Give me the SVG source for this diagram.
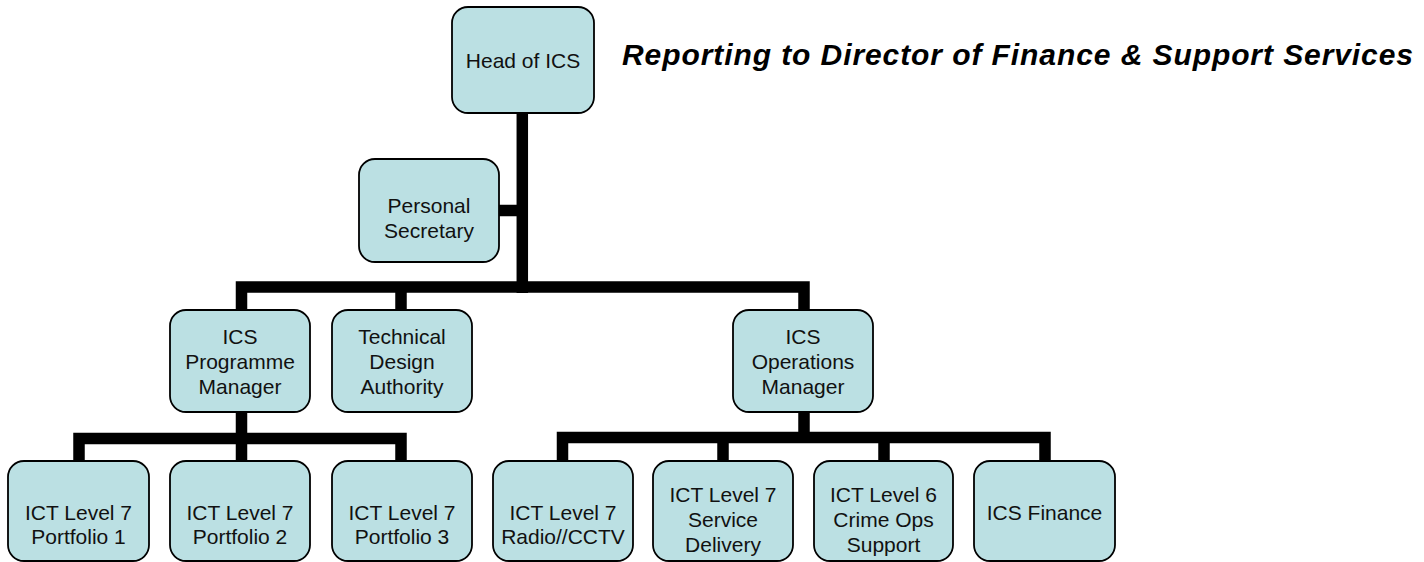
<svg xmlns="http://www.w3.org/2000/svg" width="1424" height="562" viewBox="0 0 1424 562">
<style>
.box{fill:#bbe0e3;stroke:#000;stroke-width:1.8}
.lbl{font-family:"Liberation Sans",Arial,sans-serif;font-size:21px;fill:#111;text-anchor:middle}
.con{fill:none;stroke:#000;stroke-width:11.5;stroke-linejoin:miter;stroke-linecap:butt}
.title{font-family:"Liberation Sans",Arial,sans-serif;font-size:30px;font-weight:bold;font-style:italic;fill:#000}
</style>
<rect width="1424" height="562" fill="#fff"/>
<g id="connectors">
<path class="con" d="M522.3 113 V293"/>
<path class="con" d="M499 210.5 H522"/>
<path class="con" d="M241.5 310 V287 H804 V310"/>
<path class="con" d="M401 287 V310"/>
<path class="con" d="M241.5 412 V438.5"/>
<path class="con" d="M79 461 V438.5 H401 V461"/>
<path class="con" d="M241.5 438 V461"/>
<path class="con" d="M804 412 V437.5"/>
<path class="con" d="M562.5 461 V437.5 H1045 V461"/>
<path class="con" d="M723 437 V461"/>
<path class="con" d="M884 437 V461"/>
</g>
<g id="head">
<rect class="box" x="452" y="7" width="142" height="106" rx="16"/>
<text class="lbl" x="523" y="68">Head of ICS</text>
</g>
<g id="title">
<text class="title" x="622" y="65" textLength="791" lengthAdjust="spacing">Reporting to Director of Finance &amp; Support Services</text>
</g>
<g id="secretary">
<rect class="box" x="359" y="159" width="140" height="103" rx="16"/>
<text class="lbl" x="429" y="213">Personal</text>
<text class="lbl" x="429" y="238">Secretary</text>
</g>
<g id="programme">
<rect class="box" x="170" y="310" width="140" height="102" rx="16"/>
<text class="lbl" x="240" y="344">ICS</text>
<text class="lbl" x="240" y="369">Programme</text>
<text class="lbl" x="240" y="394">Manager</text>
</g>
<g id="technical">
<rect class="box" x="332" y="310" width="140" height="102" rx="16"/>
<text class="lbl" x="402" y="344">Technical</text>
<text class="lbl" x="402" y="369">Design</text>
<text class="lbl" x="402" y="394">Authority</text>
</g>
<g id="operations">
<rect class="box" x="733" y="310" width="140" height="102" rx="16"/>
<text class="lbl" x="803" y="344">ICS</text>
<text class="lbl" x="803" y="369">Operations</text>
<text class="lbl" x="803" y="394">Manager</text>
</g>
<g id="portfolio1">
<rect class="box" x="8" y="461" width="141" height="100" rx="16"/>
<text class="lbl" x="78.5" y="520">ICT Level 7</text>
<text class="lbl" x="78.5" y="544">Portfolio 1</text>
</g>
<g id="portfolio2">
<rect class="box" x="170" y="461" width="140" height="100" rx="16"/>
<text class="lbl" x="240" y="520">ICT Level 7</text>
<text class="lbl" x="240" y="544">Portfolio 2</text>
</g>
<g id="portfolio3">
<rect class="box" x="332" y="461" width="140" height="100" rx="16"/>
<text class="lbl" x="402" y="520">ICT Level 7</text>
<text class="lbl" x="402" y="544">Portfolio 3</text>
</g>
<g id="radio">
<rect class="box" x="493" y="461" width="140" height="100" rx="16"/>
<text class="lbl" x="563" y="520">ICT Level 7</text>
<text class="lbl" x="563" y="544">Radio//CCTV</text>
</g>
<g id="service">
<rect class="box" x="653" y="461" width="140" height="100" rx="16"/>
<text class="lbl" x="723" y="502">ICT Level 7</text>
<text class="lbl" x="723" y="527">Service</text>
<text class="lbl" x="723" y="552">Delivery</text>
</g>
<g id="crime">
<rect class="box" x="814" y="461" width="139" height="100" rx="16"/>
<text class="lbl" x="883.5" y="502">ICT Level 6</text>
<text class="lbl" x="883.5" y="527">Crime Ops</text>
<text class="lbl" x="883.5" y="552">Support</text>
</g>
<g id="finance">
<rect class="box" x="974" y="461" width="141" height="100" rx="16"/>
<text class="lbl" x="1044.5" y="520">ICS Finance</text>
</g>
</svg>
